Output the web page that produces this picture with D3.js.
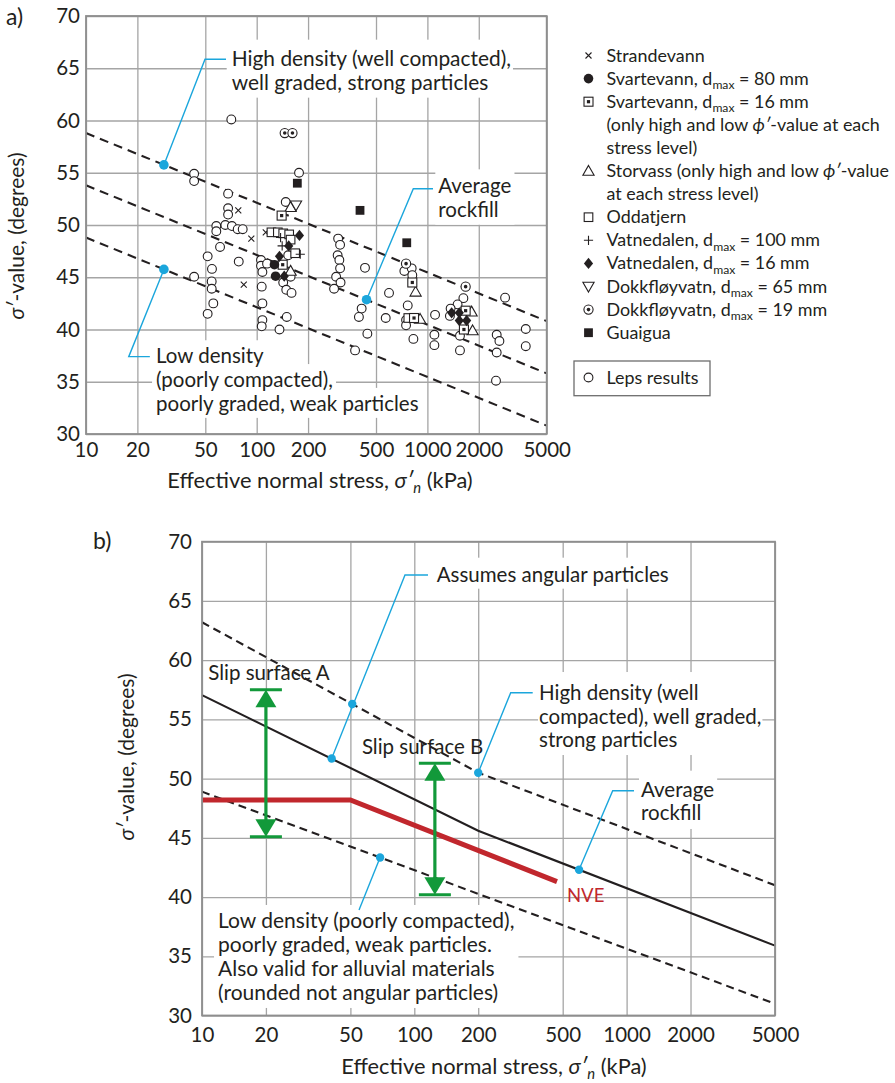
<!DOCTYPE html>
<html>
<head>
<meta charset="utf-8">
<script src="https://cdn.jsdelivr.net/npm/d3@7/dist/d3.min.js"></script>
<style>
html,body{margin:0;padding:0;background:#fff;}
svg{display:block;}
</style>
</head>
<body>
<svg id="chart" width="895" height="1083"></svg>
<script>
// ================= DATA =================
const xTickValues = [10, 20, 50, 100, 200, 500, 1000, 2000, 5000];
const yTickValues = [30, 35, 40, 45, 50, 55, 60, 65, 70];

// ---- panel a: reference lines (stress kPa, phi deg)
const aHighDensityLine = [[10, 58.8], [5000, 40.8]];
const aAverageLine     = [[10, 53.8], [5000, 35.8]];
const aLowDensityLine  = [[10, 48.8], [5000, 30.8]];

// ---- panel a: test series
const strandevann   = [[78, 51.4], [93, 48.7], [113, 49.3], [84, 44.3]];
const svartevann80  = [[127, 46.2], [129, 45.1]];
const svartevann16  = [[140, 50.9], [142, 46.2], [816, 44.5], [835, 41.1], [1675, 41.8], [1637, 40.0]];
const storvass      = [[158, 51.7], [158, 45.6], [853, 43.6], [906, 41.0], [1815, 41.7], [1840, 39.9]];
const oddatjern     = [[122, 49.3], [133, 49.3], [143, 49.2], [155, 49.1], [158, 48.6], [168, 47.3], [773, 41.1]];
const vatnedalen100 = [[138, 48.8], [141, 48.0], [180, 47.2]];
const vatnedalen16  = [[178, 49.0], [154, 48.0], [136, 47.0], [145, 45.1], [1387, 41.6], [1538, 41.6], [1538, 40.85], [1698, 40.85]];
const dokkfloyvatn65 = [[170, 51.9]];
const dokkfloyvatn19 = [[146, 58.8], [162, 58.8], [750, 46.3], [1675, 44.1]];
const guaigua       = [[173, 54.0], [403, 51.4], [757, 48.3]];
const lepsResults = [
  [71, 60.1], [43, 54.9], [43, 54.2], [68, 53.0], [68, 51.6], [68, 51.0], [58, 49.9], [58, 49.4],
  [65.5, 50.0], [71.6, 49.9], [77.4, 49.6], [82.8, 49.6], [61, 47.9], [51.6, 47.0], [78.5, 46.5],
  [54.7, 45.8], [106, 46.65], [106, 46.1], [108, 45.5], [43, 45.05], [54.5, 44.6], [54.5, 43.9],
  [107, 44.1], [55.7, 42.5], [108, 42.5], [51.6, 41.5], [108, 40.9], [107, 40.3],
  [177, 55.0], [148, 52.2], [115, 46.3], [153, 47.1], [158, 45.05], [143, 44.5], [149, 43.8],
  [160, 43.5], [150, 41.2], [136, 40.0],
  [300, 48.7], [308, 48.1], [298, 47.1], [305, 46.65], [308, 45.85], [292, 45.05], [310, 44.5], [284, 43.9],
  [431, 45.9], [412, 42.0], [397, 41.2], [445, 39.6], [377, 38.0], [596, 43.5], [570, 41.1],
  [733, 45.6], [809, 45.85], [816, 45.2], [767, 42.3], [750, 40.9], [750, 40.4], [828, 39.1],
  [1109, 41.4], [1099, 39.5], [1099, 38.5], [1625, 43.0], [1503, 42.4], [1368, 42.0], [1355, 41.3],
  [1552, 39.4], [1552, 38.0], [2852, 43.05], [2547, 39.5], [2642, 38.9], [2547, 37.8], [2523, 35.1],
  [3770, 40.05], [3770, 38.4]
];

// ---- panel b: curves
const bHighDensityLine = [[10, 63.2], [200, 50.5], [5000, 41.0]];
const bAverageLine     = [[10, 57.05], [200, 45.6], [5000, 35.9]];
const bLowDensityLine  = [[10, 48.9], [5000, 31.0]];
const nveLine          = [[10, 48.2], [50, 48.2], [470, 41.3]];
const slipSurfaces = [
  {label: "Slip surface A", stress: 20, top: 57.5, bottom: 45.1},
  {label: "Slip surface B", stress: 125, top: 51.3, bottom: 40.2}
];

// ================= STYLE =================
const FONT = "Lato, 'Open Sans', sans-serif";
const INK = "#231f20", GRID = "#a5a5a5", FRAME = "#8e8e8e";
const BLUE = "#1ba6dc", GREEN = "#12993a", RED = "#c1272d";
const FS = 20.5, TFS = 21.8;

const svg = d3.select("#chart").attr("font-family", FONT);
svg.append("rect").attr("width", 895).attr("height", 1083).attr("fill", "#fff");

function richText(sel, segs, size) {
  let shift = 0;
  segs.forEach(s => {
    const o = typeof s === "string" ? {t: s} : s;
    const ts = sel.append("tspan").text(o.t);
    const target = o.sub ? size * 0.25 : 0;
    if (target !== shift) { ts.attr("dy", target - shift); shift = target; }
    if (o.sub) ts.attr("font-size", size * 0.68);
    if (o.it) ts.attr("font-style", "italic");
  });
}

function makePanel(cfg) {
  const {x, y} = cfg;
  const g = svg.append("g");
  const gridL = g.append("g"), boxL = g.append("g"), dataL = g.append("g"), textL = g.append("g");
  const [x0, x1] = x.range(), [yb, yt] = y.range();
  gridL.append("g").attr("transform", `translate(0,${yb})`)
    .call(d3.axisBottom(x).tickValues(xTickValues).tickSize(-(yb - yt)).tickFormat(""))
    .call(s => { s.select(".domain").remove(); s.selectAll("line").attr("stroke", GRID).attr("stroke-width", 1.3); });
  gridL.append("g").attr("transform", `translate(${x0},0)`)
    .call(d3.axisLeft(y).tickValues(yTickValues).tickSize(-(x1 - x0)).tickFormat(""))
    .call(s => { s.select(".domain").remove(); s.selectAll("line").attr("stroke", GRID).attr("stroke-width", 1.3); });
  textL.append("rect").attr("x", x0).attr("y", yt).attr("width", x1 - x0).attr("height", yb - yt)
    .attr("fill", "none").attr("stroke", FRAME).attr("stroke-width", 1.8);
  g.append("g").attr("transform", `translate(0,${yb})`)
    .call(d3.axisBottom(x).tickValues(xTickValues).tickSize(0).tickPadding(cfg.xPad).tickFormat(d3.format("d")))
    .call(s => { s.select(".domain").remove(); s.attr("font-family", FONT).attr("font-size", FS).attr("color", INK); });
  g.append("g").attr("transform", `translate(${x0},0)`)
    .call(d3.axisLeft(y).tickValues(yTickValues).tickSize(0).tickPadding(cfg.yPad))
    .call(s => { s.select(".domain").remove(); s.attr("font-family", FONT).attr("font-size", FS).attr("color", INK); });
  const xt = g.append("text").attr("x", cfg.xTitle[0]).attr("y", cfg.xTitle[1]).attr("text-anchor", "middle")
    .attr("font-size", TFS).attr("fill", INK);
  richText(xt, ["Effective normal stress, ", {t: "σ′", it: 1}, {t: "n", it: 1, sub: 1}, " (kPa)"], TFS);
  const yt2 = g.append("text").attr("transform", `translate(${cfg.yTitle[0]},${cfg.yTitle[1]}) rotate(-90)`)
    .attr("text-anchor", "middle").attr("font-size", 21).attr("fill", INK);
  richText(yt2, [{t: "σ′", it: 1}, "-value, (degrees)"], 21);
  g.append("text").attr("x", cfg.tag[0]).attr("y", cfg.tag[1]).attr("font-size", 23).attr("fill", INK).text(cfg.tag[2]);
  return {g, gridL, boxL, dataL, textL, x, y};
}

function textBlock(P, xPos, yBase, lines, opts = {}) {
  const size = opts.size || FS, lh = opts.lh || 24;
  const t = P.textL.append("text").attr("font-size", size).attr("fill", opts.color || INK);
  lines.forEach((ln, i) => {
    const tl = t.append("tspan").attr("x", xPos).attr("y", yBase + i * lh);
    richText(tl, Array.isArray(ln) ? ln : [ln], size);
  });
  if (opts.box) {
    const p = Object.assign({l: 3, r: 3, t: 4, b: 3}, opts.pad || {});
    const addBox = bb => P.boxL.append("rect").attr("x", bb.x - p.l).attr("y", bb.y - p.t)
      .attr("width", bb.width + p.l + p.r).attr("height", bb.height + p.t + p.b).attr("fill", "#fff");
    if (opts.box === "block") addBox(t.node().getBBox());
    else t.selectAll(":scope > tspan").each(function () { addBox(this.getBBox()); });
  }
  return t;
}

function lineOf(P, data, style) {
  const gen = d3.line().x(d => P.x(d[0])).y(d => P.y(d[1]));
  P.dataL.append("path").attr("d", gen(data)).attr("fill", "none")
    .attr("stroke", style.color || INK).attr("stroke-width", style.width || 2)
    .attr("stroke-dasharray", style.dash || null).attr("stroke-linejoin", "miter");
}

function annotate(P, a) {
  const ex = P.x(a.elbow[0]), ey = P.y(a.elbow[1]);
  const last = a.dots[a.dots.length - 1];
  const pts = [];
  if (a.stub) pts.push([ex + a.stub, ey]);
  pts.push([ex, ey], [P.x(last[0]), P.y(last[1])]);
  P.textL.append("path").attr("d", d3.line()(pts)).attr("fill", "none").attr("stroke", BLUE).attr("stroke-width", 1.4);
  a.dots.forEach(d => P.textL.append("circle").attr("cx", P.x(d[0])).attr("cy", P.y(d[1])).attr("r", a.r || 4.8).attr("fill", BLUE));
  if (a.lines) {
    textBlock(P, ex + a.stub + a.gap, ey + a.dy, a.lines, {lh: a.lh, box: a.box, pad: a.pad, size: a.size});
  }
}

function symbol(g, type, cx, cy) {
  const s = g.append("g").attr("transform", `translate(${cx},${cy})`);
  const st = {stroke: INK, "stroke-width": 1.1};
  const ap = (el, attrs) => { Object.entries(attrs).forEach(([k, v]) => el.attr(k, v)); return el; };
  switch (type) {
    case "leps": ap(s.append("circle"), Object.assign({r: 4.4, fill: "#fff"}, st)); break;
    case "dotCircle": ap(s.append("circle"), Object.assign({r: 4.6, fill: "#fff"}, st)); s.append("circle").attr("r", 1.8).attr("fill", INK); break;
    case "filledCircle": s.append("circle").attr("r", 4.8).attr("fill", INK); break;
    case "dotSquare": ap(s.append("rect"), Object.assign({x: -4.5, y: -4.5, width: 9, height: 9, fill: "#fff"}, st));
      s.append("rect").attr("x", -1.6).attr("y", -1.6).attr("width", 3.2).attr("height", 3.2).attr("fill", INK); break;
    case "square": ap(s.append("rect"), Object.assign({x: -4.3, y: -4.3, width: 8.6, height: 8.6, fill: "#fff"}, st)); break;
    case "filledSquare": s.append("rect").attr("x", -4.4).attr("y", -4.4).attr("width", 8.8).attr("height", 8.8).attr("fill", INK); break;
    case "triUp": ap(s.append("path"), Object.assign({d: "M0,-5.6L5.6,4.2L-5.6,4.2Z", fill: "#fff"}, st)); break;
    case "triDown": ap(s.append("path"), Object.assign({d: "M0,5.6L5.6,-4.2L-5.6,-4.2Z", fill: "#fff"}, st)); break;
    case "diamond": s.append("path").attr("d", "M0,-5.6L4.6,0L0,5.6L-4.6,0Z").attr("fill", INK); break;
    case "cross": ap(s.append("path"), Object.assign({d: "M-3,-3L3,3M-3,3L3,-3", fill: "none"}, st)); break;
    case "plus": ap(s.append("path"), Object.assign({d: "M-4.6,0L4.6,0M0,-4.6L0,4.6", fill: "none"}, st)); break;
  }
}

// ================= PANEL A =================
const A = makePanel({
  x: d3.scaleLog().domain([10, 5000]).range([86, 546.7]),
  y: d3.scaleLinear().domain([30, 70]).range([434, 16]),
  xPad: 8, yPad: 6, xTitle: [320, 488], yTitle: [24, 236], tag: [6, 25, "a)"]
});
[aHighDensityLine, aAverageLine, aLowDensityLine].forEach(l => lineOf(A, l, {width: 2.1, dash: "9,6"}));

const aSeries = [
  {symbol: "leps", data: lepsResults},
  {symbol: "cross", data: strandevann},
  {symbol: "square", data: oddatjern},
  {symbol: "triUp", data: storvass},
  {symbol: "triDown", data: dokkfloyvatn65},
  {symbol: "dotSquare", data: svartevann16},
  {symbol: "dotCircle", data: dokkfloyvatn19},
  {symbol: "plus", data: vatnedalen100},
  {symbol: "filledCircle", data: svartevann80},
  {symbol: "diamond", data: vatnedalen16},
  {symbol: "filledSquare", data: guaigua}
];
aSeries.forEach(s => s.data.forEach(d => symbol(A.dataL, s.symbol, A.x(d[0]), A.y(d[1]))));

annotate(A, {dots: [[28.6, 55.75]], elbow: [49.8, 65.86], stub: 21, gap: 5.7, dy: 6.4, lh: 24, size: 20.9,
  lines: ["High density (well compacted),", "well graded, strong particles"], box: "block", pad: {l: 5, r: 2, t: 5, b: 4}});
annotate(A, {dots: [[440, 42.85]], elbow: [827, 53.47], stub: 19.7, gap: 5.3, dy: 4.6, lh: 23.4,
  lines: ["Average", "rockfill"], box: "block", pad: {l: 3, r: 3, t: 4, b: 4}});
annotate(A, {dots: [[28.6, 45.75]], elbow: [17.8, 37.4], stub: 21.1, gap: 6.2, dy: 6.6, lh: 23.8,
  lines: ["Low density", "(poorly compacted),", "poorly graded, weak particles"], box: "lines", pad: {l: 4, r: 3, t: 3, b: 3}});

// legend a
const legendEntries = [
  {symbol: "cross", lines: [["Strandevann"]]},
  {symbol: "filledCircle", lines: [["Svartevann, d", {t: "max", sub: 1}, " = 80 mm"]]},
  {symbol: "dotSquare", lines: [["Svartevann, d", {t: "max", sub: 1}, " = 16 mm"], ["(only high and low ", {t: "ϕ′", it: 1}, "-value at each"], ["stress level)"]]},
  {symbol: "triUp", lines: [["Storvass (only high and low ", {t: "ϕ′", it: 1}, "-value"], ["at each stress level)"]]},
  {symbol: "square", lines: [["Oddatjern"]]},
  {symbol: "plus", lines: [["Vatnedalen, d", {t: "max", sub: 1}, " = 100 mm"]]},
  {symbol: "diamond", lines: [["Vatnedalen, d", {t: "max", sub: 1}, " = 16 mm"]]},
  {symbol: "triDown", lines: [["Dokkfløyvatn, d", {t: "max", sub: 1}, " = 65 mm"]]},
  {symbol: "dotCircle", lines: [["Dokkfløyvatn, d", {t: "max", sub: 1}, " = 19 mm"]]},
  {symbol: "filledSquare", lines: [["Guaigua"]]}
];
{
  const LG = svg.append("g"), LFS = 17.9, step = 23.1;
  let row = 0;
  legendEntries.forEach(e => {
    const base = 61.5 + row * step;
    symbol(LG, e.symbol, 588.5, base - 6);
    e.lines.forEach((ln, i) => {
      const tl = LG.append("text").attr("font-size", LFS).attr("fill", INK)
        .attr("x", 606.5).attr("y", base + i * step);
      richText(tl, ln, LFS);
    });
    row += e.lines.length;
  });
  LG.append("rect").attr("x", 574).attr("y", 361).attr("width", 136).attr("height", 34.7)
    .attr("fill", "none").attr("stroke", "#6d6d6d").attr("stroke-width", 1.3);
  symbol(LG, "leps", 588.5, 377.5);
  LG.append("text").attr("x", 606.5).attr("y", 383.5).attr("font-size", LFS).attr("fill", INK).text("Leps results");
}

// ================= PANEL B =================
const B = makePanel({
  x: d3.scaleLog().domain([10, 5000]).range([202, 775]),
  y: d3.scaleLinear().domain([30, 70]).range([1015.5, 541.7]),
  xPad: 12, yPad: 10, xTitle: [494, 1074], yTitle: [134, 757], tag: [93, 549, "b)"]
});
lineOf(B, bHighDensityLine, {width: 2.1, dash: "8,5"});
lineOf(B, bLowDensityLine, {width: 2.1, dash: "8,5"});
lineOf(B, bAverageLine, {width: 2.1});
lineOf(B, nveLine, {width: 5, color: RED});

slipSurfaces.forEach((s, i) => {
  const X = B.x(s.stress), yt = B.y(s.top), yb = B.y(s.bottom);
  const gl = B.dataL.append("g").attr("stroke", GREEN).attr("fill", GREEN);
  gl.append("line").attr("x1", X - 16).attr("x2", X + 16).attr("y1", yt).attr("y2", yt).attr("stroke-width", 3);
  gl.append("line").attr("x1", X - 16).attr("x2", X + 16).attr("y1", yb).attr("y2", yb).attr("stroke-width", 3);
  gl.append("line").attr("x1", X).attr("x2", X).attr("y1", yt + 12).attr("y2", yb - 12).attr("stroke-width", 3.2);
  gl.append("path").attr("stroke", "none").attr("d", `M${X},${yt}L${X - 10.5},${yt + 17.5}L${X + 10.5},${yt + 17.5}Z`);
  gl.append("path").attr("stroke", "none").attr("d", `M${X},${yb}L${X - 10.5},${yb - 17.5}L${X + 10.5},${yb - 17.5}Z`);
  B.textL.append("text").attr("x", X + (i === 0 ? -57.7 : -73)).attr("y", yt - 9.5)
    .attr("font-size", FS).attr("fill", INK).text(s.label);
});

B.textL.append("text").attr("x", B.x(nveLine[nveLine.length - 1][0]) + 10).attr("y", B.y(nveLine[nveLine.length - 1][1]) + 20)
  .attr("font-size", 18.5).attr("fill", RED).text("NVE");

annotate(B, {dots: [[51, 56.3], [40.8, 51.7]], elbow: [90.4, 67.19], stub: 23, gap: 8.7, dy: 6.7, r: 4.2,
  lines: ["Assumes angular particles"], box: "block", pad: {l: 2, r: 2, t: 4, b: 3}});
annotate(B, {dots: [[200, 50.5]], elbow: [284.5, 57.25], stub: 22, gap: 6.3, dy: 7.3, lh: 23.5, r: 4.2,
  lines: ["High density (well", "compacted), well graded,", "strong particles"], box: "block", pad: {l: 1, r: 1, t: 8, b: 4}});
annotate(B, {dots: [[597, 42.3]], elbow: [860, 48.98], stub: 21.3, gap: 7, dy: 6, lh: 23.3, r: 4.2,
  lines: ["Average", "rockfill"], box: "block", pad: {l: 2, r: 3, t: 6, b: 5}});
annotate(B, {dots: [[69, 43.34]], elbow: [54.9, 38.91], stub: 0, r: 4.2});
textBlock(B, B.x(11.9), B.y(37.39), ["Low density (poorly compacted),", "poorly graded, weak particles.",
  "Also valid for alluvial materials", "(rounded not angular particles)"], {lh: 24, size: 21, box: "block", pad: {l: 4, r: 4, t: 2, b: 4}});
</script>
</body>
</html>
